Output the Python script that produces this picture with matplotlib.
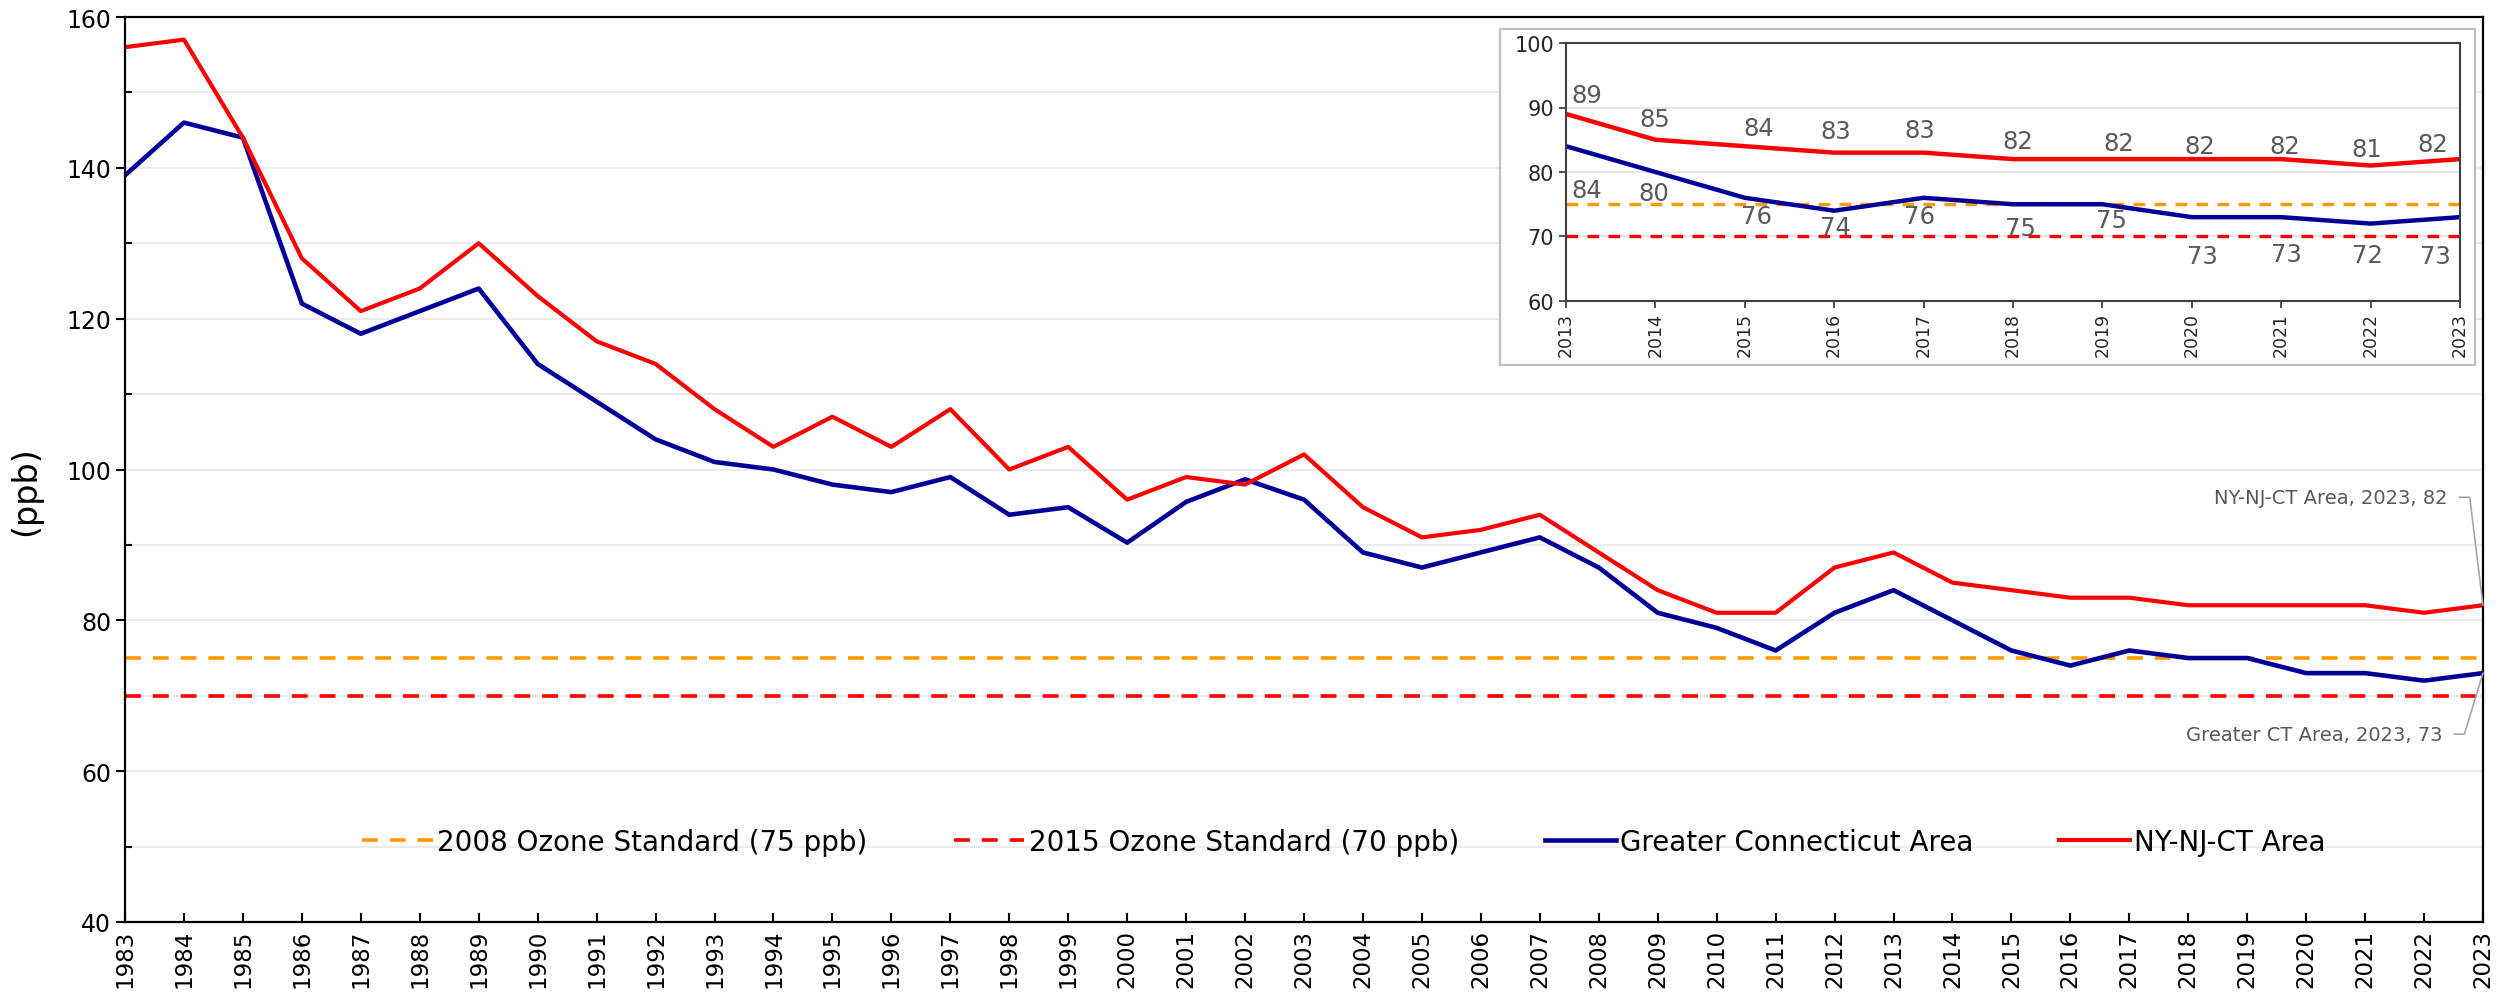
import numpy as np
import matplotlib.pyplot as plt
from matplotlib.patches import Rectangle

# annual ozone design values (ppb)
years = list(range(1983, 2024))
nyc = [156, 157, 144, 128, 121, 124, 130, 123, 117, 114,
       108, 103, 107, 103, 108, 100, 103, 96, 99, 98,
       102, 95, 91, 92, 94, 89, 84, 81, 81, 87,
       89, 85, 84, 83, 83, 82, 82, 82, 82, 81, 82]
ct = [139, 146, 144, 122, 118, 121, 124, 114, 109, 104,
      101, 100, 98, 97, 99, 94, 95, 90.3, 95.7, 98.7,
      96, 89, 87, 89, 91, 87, 81, 79, 76, 81,
      84, 80, 76, 74, 76, 75, 75, 73, 73, 72, 73]
std_2008 = 75
std_2015 = 70

nyc_name = 'NY-NJ-CT Area'
ct_name = 'Greater Connecticut Area'
std_2008_name = '2008 Ozone Standard (75 ppb)'
std_2015_name = '2015 Ozone Standard (70 ppb)'

# inset: last 11 years
n_in = 11
in_years = years[-n_in:]
in_nyc = nyc[-n_in:]
in_ct = ct[-n_in:]

# label offsets in the inset (pixels)
nyc_off = [(21, 19), (-1, 21), (14, 18), (2, 22), (-4, 23), (5, 18),
           (16, 16), (8, 13), (4, 13), (-4, 17), (-27, 15)]
ct_off = [(21, -44), (-2, -21), (12, -18), (1, -16), (-4, -18), (7, -24),
          (9, -16), (11, -39), (5, -37), (-3, -31), (-25, -39)]

RED = '#FF0000'
BLUE = '#000099'
ORANGE = '#FF9900'
GRID = '#EBEBEB'
LABEL = '#595959'

W, H = 2509, 1004
fig = plt.figure(figsize=(W / 100, H / 100), dpi=100)

# ---- main chart ----
ax = fig.add_axes([125 / W, (H - 923) / H, 2358 / W, 905 / H])
ax.set_zorder(1)

l1, = ax.plot(years, [std_2008] * len(years), color=ORANGE, lw=2.6,
              ls=(0, (4.4, 3.3)), label=std_2008_name)
l2, = ax.plot(years, [std_2015] * len(years), color=RED, lw=2.6,
              ls=(0, (4.4, 3.3)), label=std_2015_name)
l3, = ax.plot(years, ct, color=BLUE, lw=3.3, label=ct_name)
l4, = ax.plot(years, nyc, color=RED, lw=3.0, label=nyc_name)

ax.set_xlim(years[0], years[-1])
ax.set_ylim(40, 160)
ax.set_xticks(years)
ax.set_xticklabels([str(y) for y in years], rotation=90, fontsize=16.5)
ax.set_yticks(range(40, 161, 20))
ax.set_yticks(range(50, 160, 20), minor=True)
ax.tick_params(axis='y', which='major', labelsize=17, direction='out', length=6.5, width=1.5)
ax.tick_params(axis='y', which='minor', direction='in', length=5, width=1.5)
ax.tick_params(axis='x', direction='in', length=6.5, width=1.5, pad=5)
ax.grid(axis='y', which='both', color=GRID, lw=1.3)
ax.set_axisbelow(True)
for s in ax.spines.values():
    s.set_linewidth(1.6)
ax.set_ylabel('(ppb)', fontsize=24)
ax.yaxis.set_label_coords(-0.035, 0.477)

fig.legend([l1, l2, l3, l4], [std_2008_name, std_2015_name, ct_name, nyc_name],
           loc='center', bbox_to_anchor=(1344 / W, (H - 843) / H), ncol=4,
           frameon=False, fontsize=20, handlelength=2.55, handletextpad=0.15,
           columnspacing=3.1)

# end-point callouts
ax.annotate(f'{nyc_name}, {years[-1]}, {nyc[-1]}',
            xy=(years[-1], nyc[-1]), xytext=(-35, 108), textcoords='offset pixels',
            ha='right', va='center', fontsize=14, color=LABEL, annotation_clip=False,
            arrowprops=dict(arrowstyle='-', color='#A6A6A6', lw=1.2, shrinkA=6, shrinkB=0,
                            relpos=(1, 0.5), connectionstyle='angle,angleA=0,angleB=97,rad=0'))
ax.annotate(f'Greater CT Area, {years[-1]}, {ct[-1]}',
            xy=(years[-1], ct[-1]), xytext=(-40, -61), textcoords='offset pixels',
            ha='right', va='center', fontsize=14, color=LABEL, annotation_clip=False,
            arrowprops=dict(arrowstyle='-', color='#A6A6A6', lw=1.2, shrinkA=6, shrinkB=0,
                            relpos=(1, 0.5), connectionstyle='angle,angleA=0,angleB=73,rad=0'))

# ---- inset ----
box = Rectangle((1500 / W, (H - 366) / H), 975 / W, 336 / H, transform=fig.transFigure,
                facecolor='white', edgecolor='#BFBFBF', lw=1.6, zorder=1.5)
fig.patches.append(box)

ax_in = fig.add_axes([1566 / W, (H - 302) / H, 894 / W, 258 / H])
ax_in.set_zorder(2)
ax_in.plot(in_years, [std_2008] * n_in, color=ORANGE, lw=2.4, ls=(0, (3.5, 2.8)))
ax_in.plot(in_years, [std_2015] * n_in, color=RED, lw=2.4, ls=(0, (3.5, 2.8)))
ax_in.plot(in_years, in_ct, color=BLUE, lw=3.2)
ax_in.plot(in_years, in_nyc, color=RED, lw=3.2)

for yr, v, (dx, dy) in zip(in_years, in_nyc, nyc_off):
    ax_in.annotate(str(v), (yr, v), xytext=(dx, dy), textcoords='offset pixels',
                   ha='center', va='center', fontsize=17.5, color=LABEL, annotation_clip=False)
for yr, v, (dx, dy) in zip(in_years, in_ct, ct_off):
    ax_in.annotate(str(v), (yr, v), xytext=(dx, dy), textcoords='offset pixels',
                   ha='center', va='center', fontsize=17.5, color=LABEL, annotation_clip=False)

ax_in.set_xlim(in_years[0], in_years[-1])
ax_in.set_ylim(60, 100)
ax_in.set_xticks(in_years)
ax_in.set_xticklabels([str(y) for y in in_years], rotation=90, fontsize=12.5)
ax_in.set_yticks(range(60, 101, 10))
ax_in.tick_params(axis='y', labelsize=15, direction='out', length=5, width=1.3, colors='#404040',
                  labelcolor='#262626')
ax_in.tick_params(axis='x', direction='out', length=5, width=1.3, colors='#404040',
                  labelcolor='#262626', pad=3)
ax_in.grid(axis='y', color='#E3E3E8', lw=1.3)
ax_in.set_axisbelow(True)
for s in ax_in.spines.values():
    s.set_color('#404040')
    s.set_linewidth(1.5)

fig.savefig('out.png', dpi=100)
